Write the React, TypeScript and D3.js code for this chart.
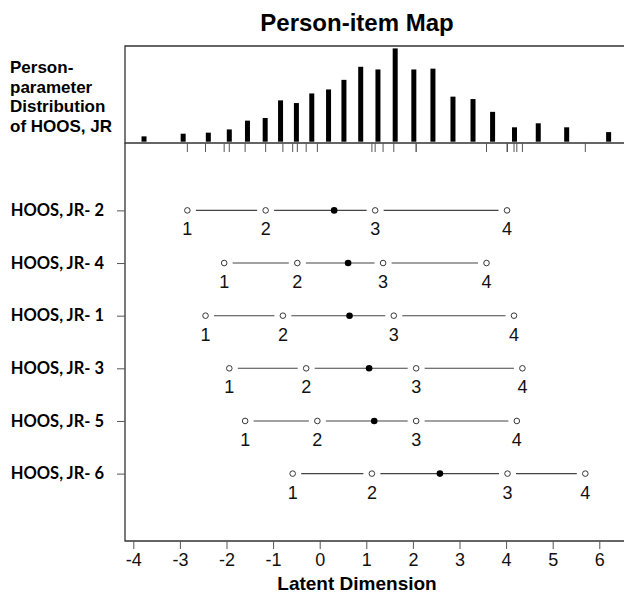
import { useEffect, useRef } from "react";
import * as d3 from "d3";

// item labels, top to bottom
const items = ["HOOS, JR- 2", "HOOS, JR- 4", "HOOS, JR- 1", "HOOS, JR- 3", "HOOS, JR- 5", "HOOS, JR- 6"];
// threshold locations (latent dimension)
const thr1 = [-2.84, -2.05, -2.45, -1.94, -1.6, -0.58];
const thr2 = [-1.16, -0.48, -0.79, -0.29, -0.05, 1.12];
const thr3 = [1.19, 1.36, 1.59, 2.07, 2.07, 4.03];
const thr4 = [4.02, 3.58, 4.17, 4.35, 4.23, 5.7];
const itemLoc = [0.31, 0.61, 0.64, 1.06, 1.17, 2.58];

// person parameter distribution
const personTheta = [-3.77, -2.93, -2.39, -1.94, -1.55, -1.17, -0.84, -0.5, -0.17, 0.19, 0.52, 0.88,
    1.25, 1.62, 2.02, 2.43, 2.86, 3.29, 3.71, 4.18, 4.69, 5.3, 6.2];
const personFreq = [2, 3, 3.4, 4.6, 7.9, 8.9, 15.5, 14.5, 18.1, 19.6, 23.2, 28.1,
    27.1, 35, 27.1, 27.4, 16.9, 16, 11.2, 5.4, 6.9, 5.4, 3.6];

const xTicks = [-4, -3, -2, -1, 0, 1, 2, 3, 4, 5, 6];
const distLabel = ["Person-", "parameter", "Distribution", "of HOOS, JR"];

export default function App() {
    const ref = useRef(null);

    useEffect(() => {
        const svg = d3.select(ref.current);
        svg.selectAll("*").remove();

        const left = 125, right = 624;
        const topY = 46, midY = 143, botY = 541;
        const arial = "Liberation Sans, Arial, sans-serif";

        const x = d3.scaleLinear().domain([-4, 6]).range([133.3, 599.3]);
        const yBar = d3.scaleLinear().domain([0, 35]).range([141.7, 48.4]);
        const y = d3.scalePoint().domain(items).range([midY, botY]).padding(1.28);

        // title
        svg.append("text")
            .attr("x", 357).attr("y", 31)
            .attr("text-anchor", "middle")
            .attr("font-family", arial).attr("font-weight", 700).attr("font-size", 24)
            .text("Person-item Map");

        // top panel box
        svg.append("path")
            .attr("d", `M${right},${topY}H${left}V${midY}H${right}`)
            .attr("fill", "none").attr("stroke", "#333").attr("stroke-width", 1.3);

        // histogram bars
        svg.selectAll(".bar").data(personTheta)
            .enter().append("rect")
            .attr("x", d => x(d) - 2.5)
            .attr("width", 5)
            .attr("y", (d, i) => yBar(personFreq[i]))
            .attr("height", (d, i) => yBar(0) - yBar(personFreq[i]))
            .attr("fill", "#000");

        // rug of thresholds
        const allThr = [...thr1, ...thr2, ...thr3, ...thr4];
        svg.selectAll(".rug").data(allThr)
            .enter().append("line")
            .attr("x1", d => x(d)).attr("x2", d => x(d))
            .attr("y1", midY).attr("y2", midY + 9)
            .attr("stroke", "#555").attr("stroke-width", 1);

        // left distribution label
        svg.append("text")
            .attr("font-family", arial).attr("font-weight", 700).attr("font-size", 17)
            .selectAll("tspan").data(distLabel)
            .enter().append("tspan")
            .attr("x", 10)
            .attr("y", (d, i) => 73 + i * 19.7)
            .text(d => d);

        // lower panel axes
        svg.append("path")
            .attr("d", `M${left},${midY}V${botY}H${right}`)
            .attr("fill", "none").attr("stroke", "#333").attr("stroke-width", 1.3);

        const xAxis = d3.axisBottom(x).tickValues(xTicks).tickSize(8).tickPadding(4).tickFormat(d => String(d));
        const gx = svg.append("g").attr("transform", `translate(0,${botY})`).call(xAxis);
        gx.select(".domain").remove();
        gx.selectAll("line").attr("stroke", "#555");
        gx.selectAll("text").attr("font-family", arial).attr("font-size", 18).attr("fill", "#111");

        const yAxis = d3.axisLeft(y).tickSize(8).tickPadding(13);
        const gy = svg.append("g").attr("transform", `translate(${left},0)`).call(yAxis);
        gy.select(".domain").remove();
        gy.selectAll("line").attr("stroke", "#555");
        gy.selectAll("text")
            .attr("font-family", "Lato, Open Sans, sans-serif").attr("font-weight", 700)
            .attr("font-size", 16.5).attr("fill", "#000");

        // x label
        svg.append("text")
            .attr("x", 357).attr("y", 590)
            .attr("text-anchor", "middle")
            .attr("font-family", arial).attr("font-weight", 700).attr("font-size", 19)
            .text("Latent Dimension");

        // item rows
        const gap = 8.5;
        items.forEach((it, i) => {
            const yy = y(it);
            const t = [thr1[i], thr2[i], thr3[i], thr4[i]];
            const row = svg.append("g");
            for (let k = 0; k < t.length - 1; k++) {
                const a = x(t[k]), b = x(t[k + 1]);
                row.append("line")
                    .attr("x1", a + gap).attr("x2", b - gap)
                    .attr("y1", yy).attr("y2", yy)
                    .attr("stroke", "#444").attr("stroke-width", 1.1);
            }
            row.selectAll(".thr").data(t)
                .enter().append("circle")
                .attr("cx", d => x(d)).attr("cy", yy).attr("r", 2.8)
                .attr("fill", "#fff").attr("stroke", "#222").attr("stroke-width", 0.9);
            row.selectAll(".num").data(t)
                .enter().append("text")
                .attr("x", d => x(d)).attr("y", yy + 25)
                .attr("text-anchor", "middle")
                .attr("font-family", arial).attr("font-size", 18)
                .attr("fill", "#111")
                .text((d, k) => k + 1);
            row.append("circle")
                .attr("cx", x(itemLoc[i])).attr("cy", yy).attr("r", 3.3)
                .attr("fill", "#000");
        });
    }, []);

    return (
        <svg ref={ref} width={624} height={601}
            style={{ position: "absolute", left: 0, top: 0, background: "#fff" }}></svg>
    );
}
